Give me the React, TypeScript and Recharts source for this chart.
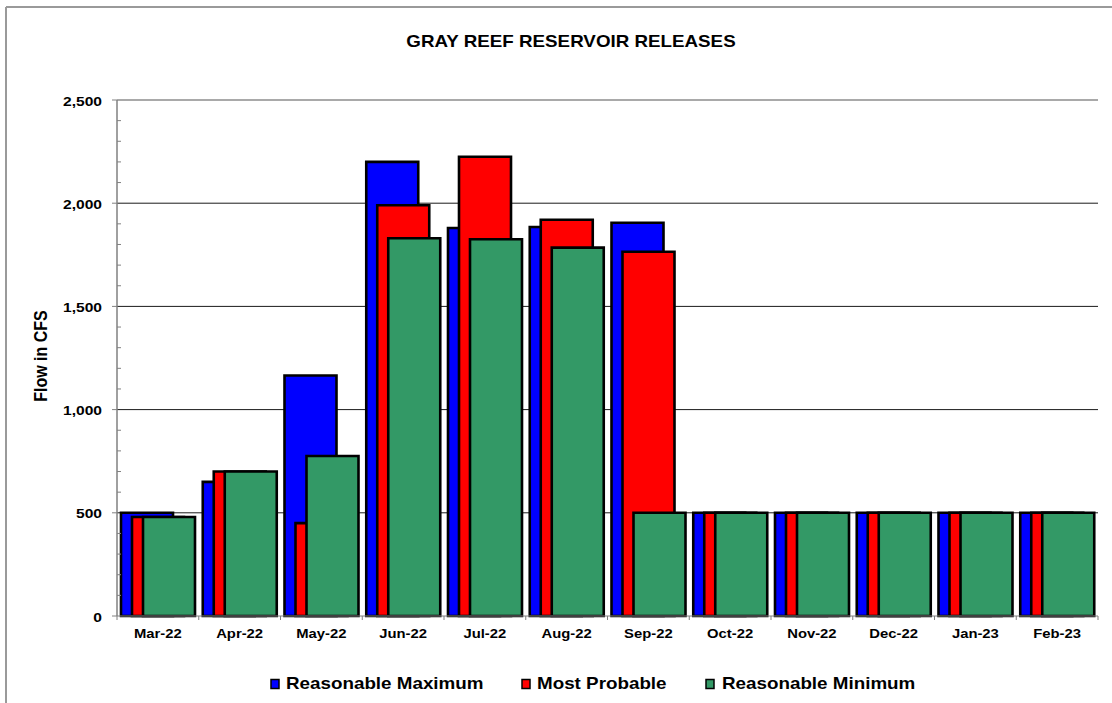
import React from 'react';
import { BarChart, Bar, XAxis, YAxis, CartesianGrid, ReferenceLine } from 'recharts';

const categories = ['Mar-22', 'Apr-22', 'May-22', 'Jun-22', 'Jul-22', 'Aug-22', 'Sep-22', 'Oct-22', 'Nov-22', 'Dec-22', 'Jan-23', 'Feb-23'];
const reasonableMaximum = [500, 650, 1165, 2200, 1880, 1885, 1905, 500, 500, 500, 500, 500];
const mostProbable = [480, 700, 450, 1990, 2225, 1920, 1765, 500, 500, 500, 500, 500];
const reasonableMinimum = [480, 700, 775, 1830, 1825, 1785, 500, 500, 500, 500, 500, 500];
const yTicks = Array.from({ length: 26 }, (_, i) => i * 100);
const gridValues = [500, 1000, 1500, 2000];

const seriesNames = ['Reasonable Maximum', 'Most Probable', 'Reasonable Minimum'];
const seriesColors = ['#0000FF', '#FF0000', '#339966'];

const data = categories.map((c, i) => ({
  month: c,
  max: reasonableMaximum[i],
  prob: mostProbable[i],
  min: reasonableMinimum[i],
}));

const W = 1112;
const H = 703;
const PLOT_LEFT = 117;
const PLOT_RIGHT = 1098;
const PLOT_TOP = 100;
const PLOT_BOTTOM = 616;
const BW = (PLOT_RIGHT - PLOT_LEFT) / categories.length;
const FONT = 'Arial, "Liberation Sans", Helvetica, sans-serif';

const fmt = (v: number) => v.toLocaleString('en-US');

const YTick = (props: any) => {
  const { y, payload } = props;
  const v = payload.value as number;
  if (v % 500 !== 0) {
    return <line x1={PLOT_LEFT} x2={PLOT_LEFT + 4} y1={y} y2={y} stroke="#808080" strokeWidth={1} />;
  }
  return (
    <g>
      <line x1={PLOT_LEFT - 5} x2={PLOT_LEFT} y1={y} y2={y} stroke="#808080" strokeWidth={1} />
      <text
        transform={`translate(${PLOT_LEFT - 15},${y + 5.5}) scale(1.2,1)`}
        textAnchor="end"
        fontFamily={FONT}
        fontWeight="bold"
        fontSize={13}
        fill="#000"
      >
        {fmt(v)}
      </text>
    </g>
  );
};

const XTick = (props: any) => {
  const { x, payload } = props;
  const isLast = payload.value === categories[categories.length - 1];
  return (
    <g>
      <line x1={x - BW / 2} x2={x - BW / 2} y1={PLOT_BOTTOM} y2={PLOT_BOTTOM + 4} stroke="#808080" />
      {isLast && <line x1={x + BW / 2} x2={x + BW / 2} y1={PLOT_BOTTOM} y2={PLOT_BOTTOM + 4} stroke="#808080" />}
      <text
        transform={`translate(${x},638) scale(1.14,1)`}
        textAnchor="middle"
        fontFamily={FONT}
        fontWeight="bold"
        fontSize={13}
        fill="#000"
      >
        {payload.value}
      </text>
    </g>
  );
};

const legendPos = [
  { sq: 271, tx: 286 },
  { sq: 522, tx: 537 },
  { sq: 706, tx: 722 },
];

export default function App() {
  return (
    <div style={{ position: 'absolute', left: 0, top: 0, width: W, height: H, overflow: 'hidden', background: '#fff' }}>
      <BarChart
        width={W}
        height={H}
        data={data}
        margin={{ top: PLOT_TOP, right: W - PLOT_RIGHT, bottom: H - PLOT_BOTTOM - 30, left: PLOT_LEFT - 60 }}
        barSize={52}
        barGap={-41}
      >
        <CartesianGrid horizontal vertical={false} horizontalValues={gridValues} stroke="#1a1a1a" strokeWidth={1} />
        <ReferenceLine y={2500} stroke="#8c8c8c" strokeWidth={1.5} />
        <XAxis
          dataKey="month"
          height={30}
          interval={0}
          axisLine={{ stroke: '#808080', strokeWidth: 1 }}
          tickLine={false}
          tick={<XTick />}
        />
        <YAxis
          width={60}
          type="number"
          domain={[0, 2500]}
          ticks={yTicks}
          interval={0}
          axisLine={{ stroke: '#808080', strokeWidth: 1.5 }}
          tickLine={false}
          tick={<YTick />}
        />
        <Bar dataKey="max" name={seriesNames[0]} fill={seriesColors[0]} stroke="#000" strokeWidth={2.6} isAnimationActive={false} />
        <Bar dataKey="prob" name={seriesNames[1]} fill={seriesColors[1]} stroke="#000" strokeWidth={2.6} isAnimationActive={false} />
        <Bar dataKey="min" name={seriesNames[2]} fill={seriesColors[2]} stroke="#000" strokeWidth={2.6} isAnimationActive={false} />
      </BarChart>
      <svg width={W} height={H} style={{ position: 'absolute', left: 0, top: 0, pointerEvents: 'none' }}>
        <line x1={6} y1={7} x2={W + 10} y2={7} stroke="#9a9a9a" strokeWidth={2} />
        <line x1={6} y1={7} x2={6} y2={H + 10} stroke="#9a9a9a" strokeWidth={2} />
        <text
          transform="translate(571,47.3) scale(1.174,1)"
          textAnchor="middle"
          fontFamily={FONT}
          fontWeight="bold"
          fontSize={16}
          fill="#000"
        >
          GRAY REEF RESERVOIR RELEASES
        </text>
        <text
          transform="translate(46.5,356) scale(1.1,1) rotate(-90)"
          textAnchor="middle"
          fontFamily={FONT}
          fontWeight="bold"
          fontSize={16}
          fill="#000"
        >
          Flow in CFS
        </text>
        {seriesNames.map((n, i) => (
          <g key={n}>
            <rect x={legendPos[i].sq} y={679.5} width={8} height={9} fill={seriesColors[i]} stroke="#000" strokeWidth={1.5} />
            <text
              transform={`translate(${legendPos[i].tx},689) scale(1.14,1)`}
              fontFamily={FONT}
              fontWeight="bold"
              fontSize={16.5}
              fill="#000"
            >
              {n}
            </text>
          </g>
        ))}
      </svg>
    </div>
  );
}
